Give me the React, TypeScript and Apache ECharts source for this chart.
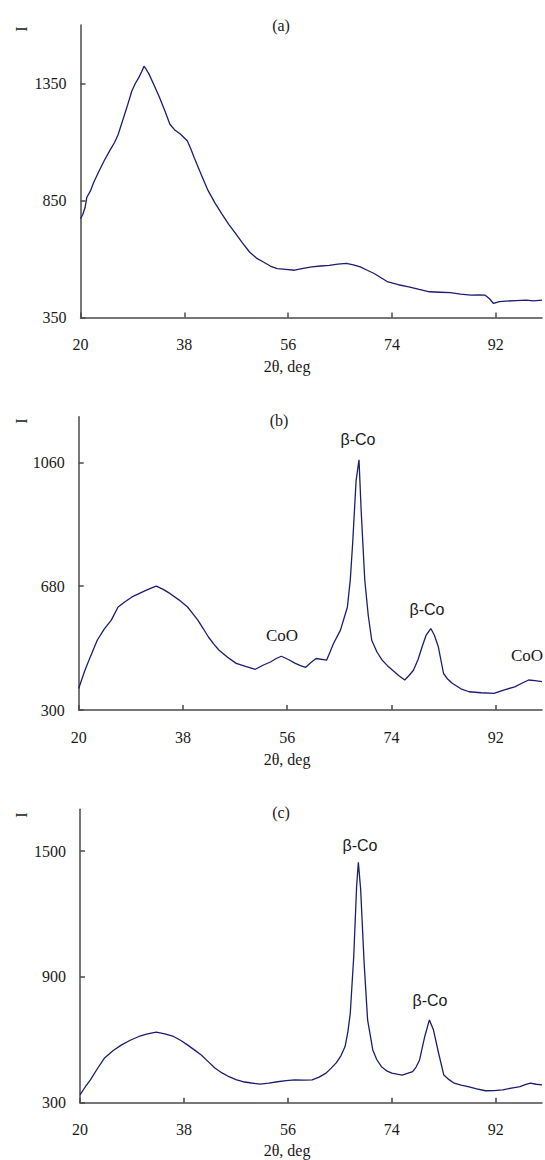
import React, { useEffect, useRef } from "react";
import * as echarts from "echarts";

// ---- data (2θ in degrees, intensity) ----
const xTicks = [20, 38, 56, 74, 92];
const yTicksA = [350, 850, 1350];
const yTicksB = [300, 680, 1060];
const yTicksC = [300, 900, 1500];

const seriesA: [number, number][] = [
  [20, 772], [20.4, 790], [20.8, 821], [21.1, 864], [21.7, 890], [22.3, 928], [23.2, 975],
  [24.1, 1020], [25.0, 1060], [25.9, 1098], [26.5, 1130], [27.1, 1176], [28.0, 1245],
  [28.9, 1318], [29.5, 1350], [30.1, 1375], [30.6, 1400], [31.0, 1424], [31.4, 1410],
  [31.9, 1389], [32.8, 1340], [33.7, 1290], [34.6, 1235], [35.5, 1176], [36.4, 1150],
  [37.3, 1134], [38.5, 1105], [39.1, 1072], [39.7, 1034], [40.9, 962], [42.1, 893],
  [43.3, 840], [44.5, 793], [45.7, 748], [46.9, 708], [48.1, 668], [49.3, 630],
  [50.5, 604], [51.7, 587], [52.9, 570], [54.1, 559], [55.6, 556], [57.1, 552],
  [58.6, 560], [60.1, 566], [61.6, 570], [63.1, 573], [64.6, 578], [66.1, 581],
  [67.3, 575], [68.5, 566], [69.7, 552], [70.9, 538], [72.1, 520], [73.3, 502],
  [75.1, 490], [76.9, 481], [78.7, 470], [80.5, 460], [82.3, 458], [84.1, 456],
  [85.9, 450], [87.7, 446], [89.0, 447], [90.1, 446], [90.9, 430], [91.6, 410],
  [92.6, 418], [93.7, 420], [95.5, 422], [97.3, 424], [98.5, 421], [100, 424]
];

const seriesB: [number, number][] = [
  [20, 366], [21.0, 418], [22.0, 463], [23.2, 514], [24.4, 548], [25.6, 575],
  [26.8, 616], [28.0, 632], [29.2, 647], [30.4, 657], [31.6, 667], [32.5, 674],
  [33.4, 680], [34.6, 670], [35.8, 657], [37.3, 638], [38.8, 616], [39.7, 596],
  [40.6, 575], [41.5, 550], [42.4, 524], [43.3, 503], [44.2, 484], [45.7, 462],
  [47.2, 443], [48.8, 434], [50.5, 425], [51.9, 438], [53.2, 448], [54.1, 458],
  [55.0, 465], [56.2, 455], [57.4, 443], [58.3, 436], [59.2, 431], [60.1, 446],
  [61.0, 458], [62.8, 453], [63.4, 478], [64.0, 504], [65.2, 545], [66.4, 616],
  [66.9, 700], [67.3, 810], [67.9, 1004], [68.4, 1068], [68.8, 902], [69.4, 698],
  [70.0, 590], [70.6, 514], [71.5, 478], [72.4, 453], [73.3, 436], [74.2, 422],
  [75.3, 405], [76.3, 392], [77.0, 405], [77.8, 422], [78.6, 455], [79.3, 494],
  [80.0, 530], [80.8, 550], [81.4, 530], [82.1, 494], [83.0, 412], [83.7, 395],
  [84.5, 382], [86.0, 365], [87.4, 356], [89.5, 353], [91.7, 351], [93.5, 362],
  [95.3, 371], [96.5, 382], [97.7, 392], [98.8, 390], [100, 387]
];

const seriesC: [number, number][] = [
  [20, 337], [20.9, 375], [21.8, 409], [23.0, 462], [24.2, 512], [25.7, 548],
  [27.2, 576], [28.7, 598], [30.2, 616], [31.7, 628], [33.2, 637], [34.7, 628],
  [36.2, 616], [37.4, 598], [38.6, 576], [39.8, 552], [41.0, 528], [42.2, 496],
  [43.4, 464], [44.6, 442], [45.8, 424], [47.0, 410], [48.2, 400], [49.7, 394],
  [51.2, 389], [52.7, 393], [54.2, 400], [55.7, 405], [57.2, 409], [58.7, 408],
  [60.2, 409], [61.4, 422], [62.6, 441], [63.5, 465], [64.4, 491], [65.2, 525],
  [65.9, 568], [66.4, 640], [66.8, 727], [67.4, 998], [67.9, 1333], [68.2, 1447],
  [68.6, 1317], [69.2, 966], [69.8, 695], [70.7, 552], [71.4, 505], [72.2, 472],
  [73.1, 452], [74.0, 441], [74.9, 436], [75.8, 432], [76.7, 440], [77.6, 448],
  [78.2, 470], [78.8, 504], [79.7, 616], [80.5, 695], [81.2, 648], [82.1, 536],
  [83.0, 432], [83.9, 410], [84.8, 393], [86.0, 384], [87.2, 377], [88.7, 366],
  [90.2, 357], [91.7, 358], [93.2, 361], [94.7, 370], [96.2, 377], [97.1, 386],
  [98.0, 393], [99.0, 388], [100, 385]
];

const panelTitles = ["(a)", "(b)", "(c)"];
const xAxisName = "2θ, deg";
const yAxisName = "I";

const SERIF = "Liberation Serif";
const SANS = "Liberation Sans";
const AXIS_COLOR = "#4a4a4a";
const LINE_COLOR = "#1c1c70";
const TEXT_COLOR = "#1a1a1a";

function txt(text: string, x: number, y: number, size: number, family: string, rotation = 0, align = "center") {
  return {
    type: "text",
    x,
    y,
    rotation,
    style: {
      text,
      font: `${size}px "${family}"`,
      fill: TEXT_COLOR,
      align,
      verticalAlign: "middle",
      textAlign: align,
      textVerticalAlign: "middle",
    },
  };
}

export default function App() {
  const ref = useRef<HTMLDivElement>(null);

  useEffect(() => {
    if (!ref.current) return;
    const chart = echarts.init(ref.current, undefined, { renderer: "svg" });

    const grids = [
      { left: 80.5, top: 25, width: 461.5, height: 292.5 },
      { left: 78.7, top: 416.7, width: 463.3, height: 293.3 },
      { left: 80, top: 809.3, width: 462, height: 293.4 },
    ];
    const yRanges = [
      { min: 350, max: 1600, interval: 500, ticks: yTicksA },
      { min: 300, max: 1200, interval: 380, ticks: yTicksB },
      { min: 300, max: 1700, interval: 600, ticks: yTicksC },
    ];

    const plain = (v: number) => String(v);

    const xAxes = grids.map((_, i) => ({
      type: "value",
      gridIndex: i,
      min: 20,
      max: 100,
      interval: 18,
      axisLine: { lineStyle: { color: AXIS_COLOR, width: 1.5 } },
      axisTick: { inside: true, length: 5, customValues: xTicks, lineStyle: { color: AXIS_COLOR, width: 1.5 } },
      axisLabel: {
        customValues: xTicks,
        formatter: plain,
        margin: 19,
        fontFamily: SERIF,
        fontSize: 16,
        color: TEXT_COLOR,
      },
      splitLine: { show: false },
    }));

    const yAxes = yRanges.map((r, i) => ({
      type: "value",
      gridIndex: i,
      min: r.min,
      max: r.max,
      interval: r.interval,
      axisLine: { show: true, lineStyle: { color: AXIS_COLOR, width: 1.5 } },
      axisTick: { show: true, inside: true, length: 5, customValues: r.ticks, lineStyle: { color: AXIS_COLOR, width: 1.5 } },
      axisLabel: {
        customValues: r.ticks,
        formatter: plain,
        margin: 14,
        fontFamily: SERIF,
        fontSize: 16,
        color: TEXT_COLOR,
      },
      splitLine: { show: false },
    }));

    const allData = [seriesA, seriesB, seriesC];
    const series = allData.map((d, i) => ({
      type: "line",
      xAxisIndex: i,
      yAxisIndex: i,
      data: d,
      showSymbol: false,
      symbol: "none",
      lineStyle: { color: LINE_COLOR, width: 1.3 },
      clip: true,
    }));

    const graphic = [
      txt(panelTitles[0], 281, 25, 16, SERIF),
      txt(panelTitles[1], 279, 420, 16, SERIF),
      txt(panelTitles[2], 281, 812, 16, SERIF),
      txt(yAxisName, 21, 29, 16, SERIF, Math.PI / 2),
      txt(yAxisName, 21, 421, 16, SERIF, Math.PI / 2),
      txt(yAxisName, 21, 815, 16, SERIF, Math.PI / 2),
      txt(xAxisName, 287, 366, 16, SERIF),
      txt(xAxisName, 287, 759, 16, SERIF),
      txt(xAxisName, 287, 1150, 16, SERIF),
      txt("β-Co", 358, 439, 16, SANS),
      txt("β-Co", 427, 609, 16, SANS),
      txt("CoO", 282, 635, 17, SERIF),
      txt("CoO", 543, 655, 17, SERIF, 0, "right"),
      txt("β-Co", 360, 845, 16, SANS),
      txt("β-Co", 430, 1000, 16, SANS),
    ];

    chart.setOption({
      animation: false,
      backgroundColor: "#ffffff",
      grid: grids,
      xAxis: xAxes,
      yAxis: yAxes,
      series,
      graphic,
    });

    return () => chart.dispose();
  }, []);

  return (
    <div
      ref={ref}
      style={{ position: "fixed", left: 0, top: 0, width: 545, height: 1160, background: "#fff" }}
    />
  );
}
